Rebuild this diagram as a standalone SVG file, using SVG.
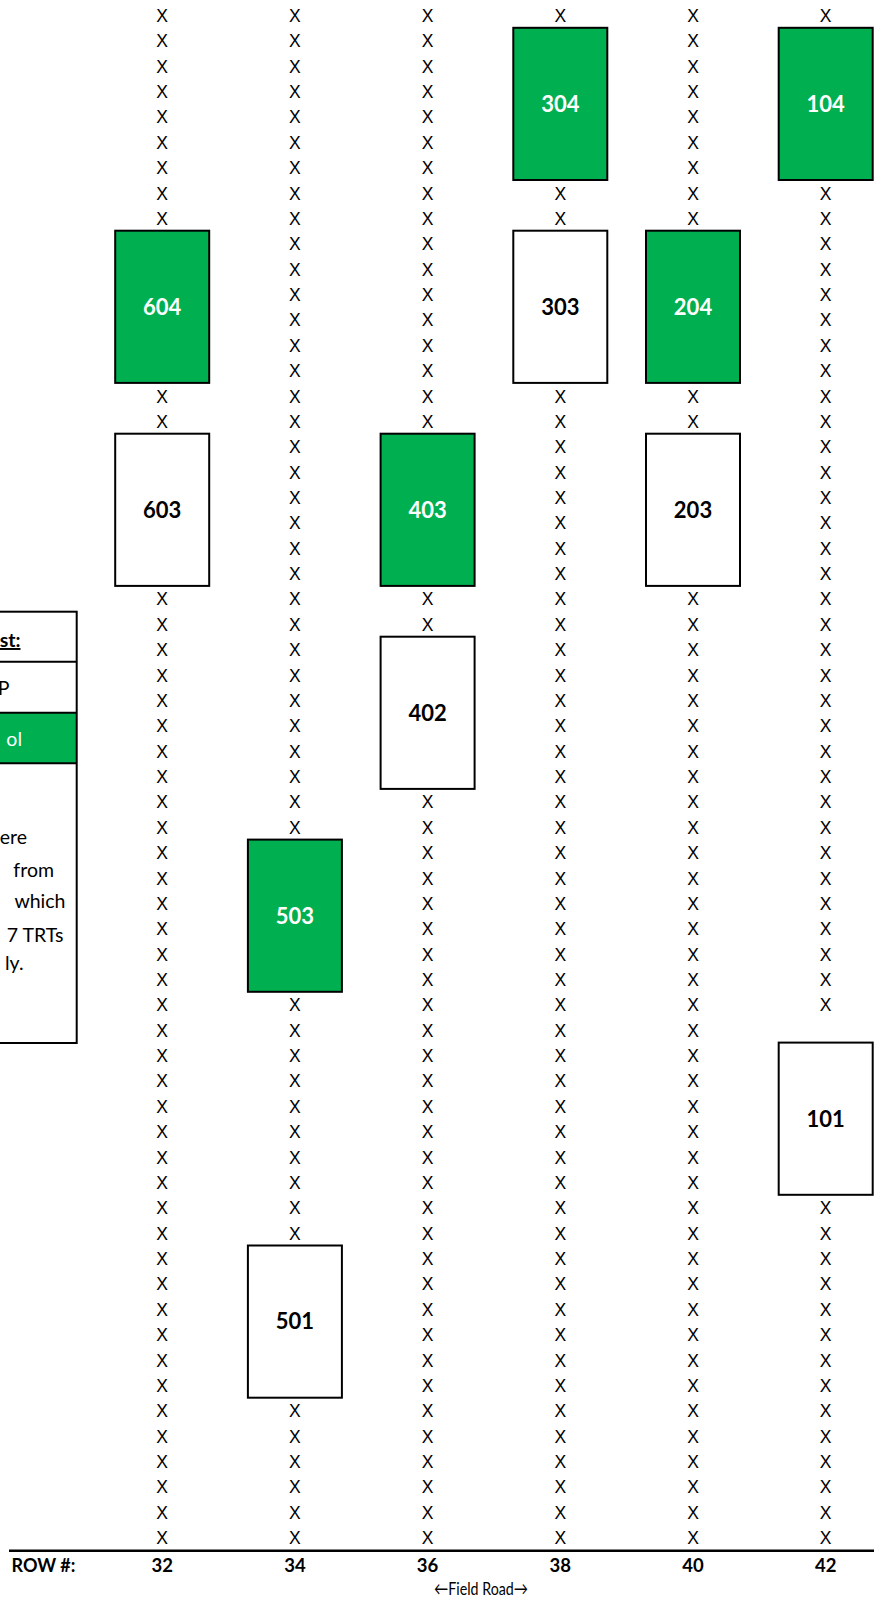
<svg xmlns="http://www.w3.org/2000/svg" width="874" height="1600" viewBox="0 0 874 1600">
<style>
text{font-family:Lato,"Liberation Sans",sans-serif;fill:#000}
.xs text{font-family:"Liberation Sans",Arial,sans-serif;font-size:17.5px;text-anchor:middle}
.box{stroke:#000;stroke-width:2}
.g{fill:#00B050}
.w{fill:#fff}
.lbl{font-size:22px;font-weight:700;text-anchor:middle}
.lw{fill:#fff}
.row{font-size:18.5px;font-weight:700;text-anchor:middle}
.leg{font-size:19.5px;text-anchor:end}
</style>
<rect width="874" height="1600" fill="#fff"/>
<g id="legend">
<rect x="-200" y="712.7" width="276.7" height="50.6" fill="#00B050"/>
<rect x="-200" y="611.7" width="276.7" height="431.3" fill="none" stroke="#000" stroke-width="2"/>
<line x1="-200" y1="661.7" x2="76.7" y2="661.7" stroke="#000" stroke-width="2"/>
<line x1="-200" y1="712.7" x2="76.7" y2="712.7" stroke="#000" stroke-width="2"/>
<line x1="-200" y1="763.3" x2="76.7" y2="763.3" stroke="#000" stroke-width="2"/>
<text class="leg" x="20.5" y="647" font-weight="700" text-decoration="underline">st:</text>
<text class="leg" x="9.5" y="695">P</text>
<text class="leg" x="22" y="746" style="fill:#fff">ol</text>
<text class="leg" x="27" y="844">ere</text>
<text class="leg" x="54" y="877">from</text>
<text class="leg" x="65.5" y="908">which</text>
<text class="leg" x="63.5" y="942">7 TRTs</text>
<text class="leg" x="23.5" y="970">ly.</text>
</g>
<g id="col32" class="xs" transform="translate(162.2 0.3)">
<text y="21.7">X</text><text y="47.1">X</text><text y="72.4">X</text><text y="97.8">X</text><text y="123.2">X</text><text y="148.6">X</text><text y="173.9">X</text><text y="199.3">X</text><text y="224.7">X</text>
<text y="402.3">X</text><text y="427.6">X</text>
<text y="605.2">X</text><text y="630.6">X</text><text y="656">X</text><text y="681.3">X</text><text y="706.7">X</text><text y="732.1">X</text><text y="757.4">X</text><text y="782.8">X</text><text y="808.2">X</text><text y="833.5">X</text><text y="858.9">X</text><text y="884.3">X</text><text y="909.7">X</text><text y="935">X</text><text y="960.4">X</text><text y="985.8">X</text><text y="1011.1">X</text><text y="1036.5">X</text><text y="1061.9">X</text><text y="1087.2">X</text><text y="1112.6">X</text><text y="1138">X</text><text y="1163.4">X</text><text y="1188.7">X</text><text y="1214.1">X</text><text y="1239.5">X</text><text y="1264.8">X</text><text y="1290.2">X</text><text y="1315.6">X</text><text y="1340.9">X</text><text y="1366.3">X</text><text y="1391.7">X</text><text y="1417.1">X</text><text y="1442.4">X</text><text y="1467.8">X</text><text y="1493.2">X</text><text y="1518.5">X</text><text y="1543.9">X</text>
</g>
<g id="col34" class="xs" transform="translate(294.9 0.3)">
<text y="21.7">X</text><text y="47.1">X</text><text y="72.4">X</text><text y="97.8">X</text><text y="123.2">X</text><text y="148.6">X</text><text y="173.9">X</text><text y="199.3">X</text><text y="224.7">X</text><text y="250">X</text><text y="275.4">X</text><text y="300.8">X</text><text y="326.1">X</text><text y="351.5">X</text><text y="376.9">X</text><text y="402.3">X</text><text y="427.6">X</text><text y="453">X</text><text y="478.4">X</text><text y="503.7">X</text><text y="529.1">X</text><text y="554.5">X</text><text y="579.8">X</text><text y="605.2">X</text><text y="630.6">X</text><text y="656">X</text><text y="681.3">X</text><text y="706.7">X</text><text y="732.1">X</text><text y="757.4">X</text><text y="782.8">X</text><text y="808.2">X</text><text y="833.5">X</text>
<text y="1011.1">X</text><text y="1036.5">X</text><text y="1061.9">X</text><text y="1087.2">X</text><text y="1112.6">X</text><text y="1138">X</text><text y="1163.4">X</text><text y="1188.7">X</text><text y="1214.1">X</text><text y="1239.5">X</text>
<text y="1417.1">X</text><text y="1442.4">X</text><text y="1467.8">X</text><text y="1493.2">X</text><text y="1518.5">X</text><text y="1543.9">X</text>
</g>
<g id="col36" class="xs" transform="translate(427.6 0.3)">
<text y="21.7">X</text><text y="47.1">X</text><text y="72.4">X</text><text y="97.8">X</text><text y="123.2">X</text><text y="148.6">X</text><text y="173.9">X</text><text y="199.3">X</text><text y="224.7">X</text><text y="250">X</text><text y="275.4">X</text><text y="300.8">X</text><text y="326.1">X</text><text y="351.5">X</text><text y="376.9">X</text><text y="402.3">X</text><text y="427.6">X</text>
<text y="605.2">X</text><text y="630.6">X</text>
<text y="808.2">X</text><text y="833.5">X</text><text y="858.9">X</text><text y="884.3">X</text><text y="909.7">X</text><text y="935">X</text><text y="960.4">X</text><text y="985.8">X</text><text y="1011.1">X</text><text y="1036.5">X</text><text y="1061.9">X</text><text y="1087.2">X</text><text y="1112.6">X</text><text y="1138">X</text><text y="1163.4">X</text><text y="1188.7">X</text><text y="1214.1">X</text><text y="1239.5">X</text><text y="1264.8">X</text><text y="1290.2">X</text><text y="1315.6">X</text><text y="1340.9">X</text><text y="1366.3">X</text><text y="1391.7">X</text><text y="1417.1">X</text><text y="1442.4">X</text><text y="1467.8">X</text><text y="1493.2">X</text><text y="1518.5">X</text><text y="1543.9">X</text>
</g>
<g id="col38" class="xs" transform="translate(560.3 0.3)">
<text y="21.7">X</text>
<text y="199.3">X</text><text y="224.7">X</text>
<text y="402.3">X</text><text y="427.6">X</text><text y="453">X</text><text y="478.4">X</text><text y="503.7">X</text><text y="529.1">X</text><text y="554.5">X</text><text y="579.8">X</text><text y="605.2">X</text><text y="630.6">X</text><text y="656">X</text><text y="681.3">X</text><text y="706.7">X</text><text y="732.1">X</text><text y="757.4">X</text><text y="782.8">X</text><text y="808.2">X</text><text y="833.5">X</text><text y="858.9">X</text><text y="884.3">X</text><text y="909.7">X</text><text y="935">X</text><text y="960.4">X</text><text y="985.8">X</text><text y="1011.1">X</text><text y="1036.5">X</text><text y="1061.9">X</text><text y="1087.2">X</text><text y="1112.6">X</text><text y="1138">X</text><text y="1163.4">X</text><text y="1188.7">X</text><text y="1214.1">X</text><text y="1239.5">X</text><text y="1264.8">X</text><text y="1290.2">X</text><text y="1315.6">X</text><text y="1340.9">X</text><text y="1366.3">X</text><text y="1391.7">X</text><text y="1417.1">X</text><text y="1442.4">X</text><text y="1467.8">X</text><text y="1493.2">X</text><text y="1518.5">X</text><text y="1543.9">X</text>
</g>
<g id="col40" class="xs" transform="translate(693 0.3)">
<text y="21.7">X</text><text y="47.1">X</text><text y="72.4">X</text><text y="97.8">X</text><text y="123.2">X</text><text y="148.6">X</text><text y="173.9">X</text><text y="199.3">X</text><text y="224.7">X</text>
<text y="402.3">X</text><text y="427.6">X</text>
<text y="605.2">X</text><text y="630.6">X</text><text y="656">X</text><text y="681.3">X</text><text y="706.7">X</text><text y="732.1">X</text><text y="757.4">X</text><text y="782.8">X</text><text y="808.2">X</text><text y="833.5">X</text><text y="858.9">X</text><text y="884.3">X</text><text y="909.7">X</text><text y="935">X</text><text y="960.4">X</text><text y="985.8">X</text><text y="1011.1">X</text><text y="1036.5">X</text><text y="1061.9">X</text><text y="1087.2">X</text><text y="1112.6">X</text><text y="1138">X</text><text y="1163.4">X</text><text y="1188.7">X</text><text y="1214.1">X</text><text y="1239.5">X</text><text y="1264.8">X</text><text y="1290.2">X</text><text y="1315.6">X</text><text y="1340.9">X</text><text y="1366.3">X</text><text y="1391.7">X</text><text y="1417.1">X</text><text y="1442.4">X</text><text y="1467.8">X</text><text y="1493.2">X</text><text y="1518.5">X</text><text y="1543.9">X</text>
</g>
<g id="col42" class="xs" transform="translate(825.7 0.3)">
<text y="21.7">X</text>
<text y="199.3">X</text><text y="224.7">X</text><text y="250">X</text><text y="275.4">X</text><text y="300.8">X</text><text y="326.1">X</text><text y="351.5">X</text><text y="376.9">X</text><text y="402.3">X</text><text y="427.6">X</text><text y="453">X</text><text y="478.4">X</text><text y="503.7">X</text><text y="529.1">X</text><text y="554.5">X</text><text y="579.8">X</text><text y="605.2">X</text><text y="630.6">X</text><text y="656">X</text><text y="681.3">X</text><text y="706.7">X</text><text y="732.1">X</text><text y="757.4">X</text><text y="782.8">X</text><text y="808.2">X</text><text y="833.5">X</text><text y="858.9">X</text><text y="884.3">X</text><text y="909.7">X</text><text y="935">X</text><text y="960.4">X</text><text y="985.8">X</text><text y="1011.1">X</text>
<text y="1214.1">X</text><text y="1239.5">X</text><text y="1264.8">X</text><text y="1290.2">X</text><text y="1315.6">X</text><text y="1340.9">X</text><text y="1366.3">X</text><text y="1391.7">X</text><text y="1417.1">X</text><text y="1442.4">X</text><text y="1467.8">X</text><text y="1493.2">X</text><text y="1518.5">X</text><text y="1543.9">X</text>
</g>
<g id="plot604"><rect class="box g" x="115.2" y="230.7" width="94" height="152.2"/><text class="lbl lw" x="162.2" y="314.6">604</text></g>
<g id="plot603"><rect class="box w" x="115.2" y="433.7" width="94" height="152.2"/><text class="lbl" x="162.2" y="517.6">603</text></g>
<g id="plot503"><rect class="box g" x="247.9" y="839.6" width="94" height="152.2"/><text class="lbl lw" x="294.9" y="923.5">503</text></g>
<g id="plot501"><rect class="box w" x="247.9" y="1245.5" width="94" height="152.2"/><text class="lbl" x="294.9" y="1329.4">501</text></g>
<g id="plot403"><rect class="box g" x="380.6" y="433.7" width="94" height="152.2"/><text class="lbl lw" x="427.6" y="517.6">403</text></g>
<g id="plot402"><rect class="box w" x="380.6" y="636.7" width="94" height="152.2"/><text class="lbl" x="427.6" y="720.6">402</text></g>
<g id="plot304"><rect class="box g" x="513.3" y="27.8" width="94" height="152.2"/><text class="lbl lw" x="560.3" y="111.7">304</text></g>
<g id="plot303"><rect class="box w" x="513.3" y="230.7" width="94" height="152.2"/><text class="lbl" x="560.3" y="314.6">303</text></g>
<g id="plot204"><rect class="box g" x="646" y="230.7" width="94" height="152.2"/><text class="lbl lw" x="693" y="314.6">204</text></g>
<g id="plot203"><rect class="box w" x="646" y="433.7" width="94" height="152.2"/><text class="lbl" x="693" y="517.6">203</text></g>
<g id="plot104"><rect class="box g" x="778.7" y="27.8" width="94" height="152.2"/><text class="lbl lw" x="825.7" y="111.7">104</text></g>
<g id="plot101"><rect class="box w" x="778.7" y="1042.6" width="94" height="152.2"/><text class="lbl" x="825.7" y="1126.5">101</text></g>
<g id="axis">
<line x1="9" y1="1550.7" x2="874" y2="1550.7" stroke="#000" stroke-width="2.5"/>
<text x="11.5" y="1572" font-size="18" font-weight="700">ROW #:</text>
<text class="row" x="162.2" y="1572">32</text>
<text class="row" x="294.9" y="1572">34</text>
<text class="row" x="427.6" y="1572">36</text>
<text class="row" x="560.3" y="1572">38</text>
<text class="row" x="693" y="1572">40</text>
<text class="row" x="825.7" y="1572">42</text>
<text x="481" y="1595" font-size="18" text-anchor="middle" textLength="94" lengthAdjust="spacingAndGlyphs">←Field Road→</text>
</g>
</svg>
